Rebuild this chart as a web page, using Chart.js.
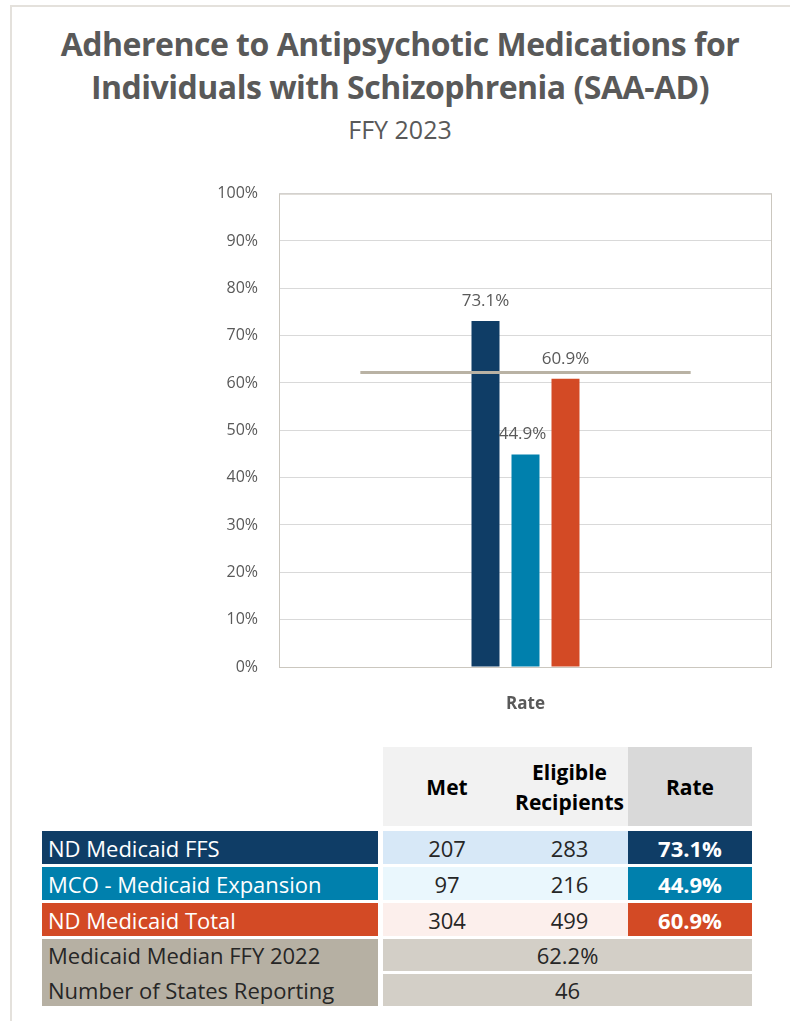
<!DOCTYPE html>
<html>
<head>
<meta charset="utf-8">
<script src="https://cdn.jsdelivr.net/npm/chart.js@4/dist/chart.umd.min.js"></script>
<style>
  html, body { margin:0; padding:0; background:#fff; }
  body { width:790px; height:1021px; position:relative; overflow:hidden; font-family:'Open Sans', 'Noto Sans', sans-serif; }
  .frame { position:absolute; left:10px; top:5px; width:800px; height:1100px; border-top:2px solid #e4e1dc; border-left:2px solid #e4e1dc; }
  .title { position:absolute; left:0; width:800px; text-align:center; color:#595959; }
  .t1 { top:22px; font-size:32px; font-weight:700; line-height:43px; letter-spacing:-0.5px; }
  .t2 { top:112px; font-size:25px; font-weight:400; }
  #chartBox { position:absolute; left:0; top:163px; width:790px; height:557px; }
  .cell { position:absolute; box-sizing:border-box; display:flex; align-items:center; font-size:22px; white-space:nowrap; }
  .c { justify-content:center; }
  .hd { font-weight:700; color:#000; text-align:center; justify-content:center; line-height:30px; font-size:21px; }
</style>
</head>
<body>
<div class="frame"></div>
<div class="title t1">Adherence to Antipsychotic Medications for<br>Individuals with Schizophrenia (SAA-AD)</div>
<div class="title t2">FFY 2023</div>
<div id="chartBox"><canvas id="c" width="790" height="557"></canvas></div>
<div id="tbl"></div>
<script>
// chart data
const categories = ['Rate'];
const seriesNames = ['ND Medicaid FFS', 'MCO - Medicaid Expansion', 'ND Medicaid Total'];
const rateValues = [73.1, 44.9, 60.9];
const metValues = [207, 97, 304];
const eligibleValues = [283, 216, 499];
const medianRate = 62.2;
const medianLabel = 'Medicaid Median FFY 2022';
const statesLabel = 'Number of States Reporting';
const statesReporting = 46;
const yTicks = [0, 10, 20, 30, 40, 50, 60, 70, 80, 90, 100];

const seriesColors = ['#0f3d66', '#0080ad', '#d34a25'];
const lightColors = ['#d7e8f7', '#eaf7fd', '#fcefec'];
const FONT = "'Open Sans', 'Noto Sans', sans-serif";

// frame around plot, median line, value labels
const extras = {
  id: 'extras',
  beforeDatasetsDraw(chart){
    const a = chart.chartArea, ctx = chart.ctx;
    ctx.save();
    ctx.strokeStyle = '#cbc7bf'; ctx.lineWidth = 1;
    ctx.strokeRect(a.left + 0.5, a.top + 0.5, a.right - a.left - 1, a.bottom - a.top);
    ctx.restore();
  },
  afterDatasetsDraw(chart){
    const ctx = chart.ctx, a = chart.chartArea;
    const y = chart.scales.y.getPixelForValue(medianRate);
    const cx = chart.scales.x.getPixelForValue(0);
    const half = (a.right - a.left) * 0.335;
    ctx.save();
    ctx.strokeStyle = '#b9b2a4'; ctx.lineWidth = 3;
    ctx.beginPath(); ctx.moveTo(cx - half, y); ctx.lineTo(cx + half, y); ctx.stroke();
    ctx.fillStyle = '#595959'; ctx.font = '17px ' + FONT;
    ctx.textAlign = 'center'; ctx.textBaseline = 'middle';
    chart.data.datasets.forEach((ds, i) => {
      const bar = chart.getDatasetMeta(i).data[0];
      ctx.fillText(ds.data[0].toFixed(1) + '%', bar.x - (i === 1 ? 3 : 0), bar.y - 20);
    });
    ctx.restore();
  }
};

new Chart(document.getElementById('c'), {
  type: 'bar',
  data: {
    labels: categories,
    datasets: seriesNames.map((n, i) => ({
      label: n, data: [rateValues[i]], backgroundColor: seriesColors[i],
      barPercentage: 0.7, categoryPercentage: 0.2434
    }))
  },
  options: {
    responsive: false, animation: false,
    layout: { padding: { top: 12, right: 18, left: 0, bottom: 0 } },
    plugins: { legend: { display: false }, tooltip: { enabled: false } },
    scales: {
      x: {
        grid: { display: false }, border: { display: false },
        ticks: { color: '#595959', padding: 19, font: { family: FONT, size: 17, weight: 'bold' } },
        afterFit(s){ s.height = 53; }
      },
      y: {
        min: 0, max: 100,
        afterBuildTicks(s){ s.ticks = yTicks.map(v => ({ value: v })); },
        grid: { color: '#d9d9d9', drawTicks: false }, border: { display: false },
        ticks: { color: '#595959', padding: 21, font: { family: FONT, size: 16 }, callback: v => v + '%' },
        afterFit(s){ s.width = 279; }
      }
    }
  },
  plugins: [extras]
});

// table below the chart
const tbl = document.getElementById('tbl');
function cell(x, y, w, h, bg, html, cls, extra){
  const d = document.createElement('div');
  d.className = 'cell ' + (cls || '');
  d.style.cssText = `left:${x}px;top:${y}px;width:${w}px;height:${h}px;background:${bg};` + (extra || '');
  d.innerHTML = html;
  tbl.appendChild(d);
}
const colL = [42, 336], colMet = [383, 128], colEl = [511, 117], colRate = [628, 124];
cell(colMet[0], 747, colMet[1], 79, '#f2f2f2', 'Met', 'hd');
cell(colEl[0], 747, colEl[1], 79, '#f2f2f2', 'Eligible<br>Recipients', 'hd');
cell(colRate[0], 747, colRate[1], 79, '#d9d9d9', 'Rate', 'hd');
const rowTops = [831, 867, 903];
seriesNames.forEach((n, i) => {
  const y = rowTops[i], h = 33;
  cell(colL[0], y, colL[1], h, seriesColors[i], n, '', 'color:#fff;padding-left:6px;');
  cell(colMet[0], y, colMet[1], h, lightColors[i], String(metValues[i]), 'c', 'color:#262626;');
  cell(colEl[0], y, colEl[1], h, lightColors[i], String(eligibleValues[i]), 'c', 'color:#262626;');
  cell(colRate[0], y, colRate[1], h, seriesColors[i], rateValues[i].toFixed(1) + '%', 'c', 'color:#fff;font-weight:700;');
});
cell(colL[0], 939, colL[1], 67, '#b6b0a3', '', '');
cell(colL[0], 939, colL[1], 32, 'transparent', medianLabel, '', 'color:#262626;padding-left:6px;');
cell(colL[0], 974, colL[1], 32, 'transparent', statesLabel, '', 'color:#262626;padding-left:6px;');
cell(colMet[0], 939, 369, 32, '#d3cfc7', medianRate.toFixed(1) + '%', 'c', 'color:#262626;');
cell(colMet[0], 974, 369, 32, '#d3cfc7', String(statesReporting), 'c', 'color:#262626;');
</script>
</body>
</html>
